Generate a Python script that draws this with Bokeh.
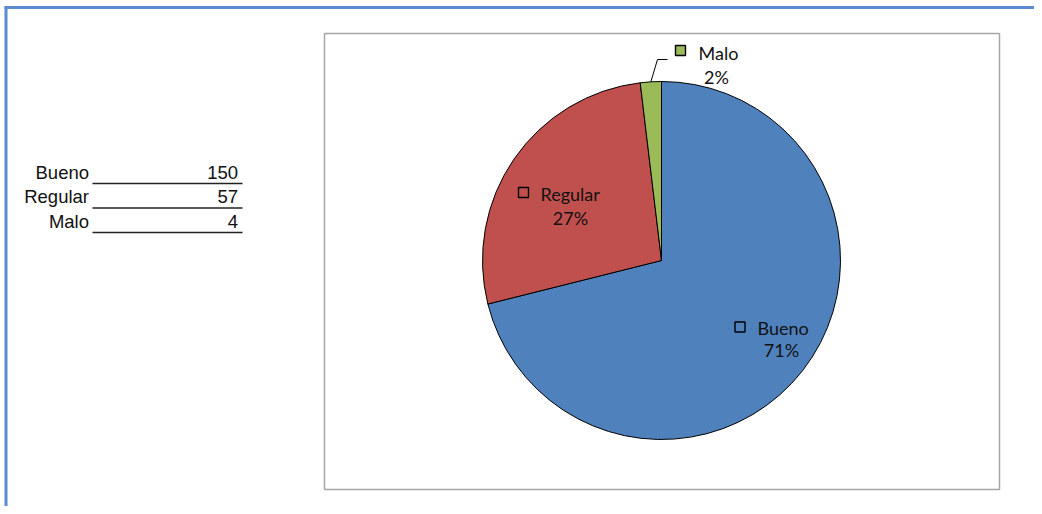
import math
from bokeh.plotting import figure
from bokeh.models import Range1d, ColumnDataSource
from bokeh.core.properties import value
from bokeh.embed import file_html
from bokeh.resources import INLINE

# ---- data ----
categories = ["Bueno", "Regular", "Malo"]
counts = [150, 57, 4]

# ---- style ----
slice_colors = ["#4F81BD", "#C0504D", "#9BBB59"]
W, H = 1034, 506
PAGE_H = 514

def Y(py):
    return PAGE_H - py

p = figure(width=W, height=H, output_backend="svg", toolbar_location=None,
           x_range=Range1d(0, W), y_range=Range1d(PAGE_H - H, PAGE_H),
           min_border=0, outline_line_color=None)
p.axis.visible = False
p.grid.visible = False
p.background_fill_color = "white"
p.border_fill_color = "white"

# sheet border (blue)
p.line([5.5, 5.5], [Y(6), Y(520)], line_color="#5B8BD0", line_width=3)
p.line([4, 1050], [Y(7), Y(7)], line_color="#5B8BD0", line_width=3)

# chart box
p.quad(left=324, right=999, top=Y(33), bottom=Y(489), fill_color="white",
       line_color="#A6A6A6", line_width=1.5)

# ---- table ----
row0, pitch = 171.5, 24.5
for i, (c, n) in enumerate(zip(categories, counts)):
    cyy = row0 + i * pitch
    p.text([88.5], [Y(cyy)], text=[c], text_align="right", text_baseline="middle",
           text_font=value("Liberation Sans"), text_font_size="18.5px", text_color="#111111")
    p.text([237.5], [Y(cyy)], text=[str(n)], text_align="right", text_baseline="middle",
           text_font=value("Liberation Sans"), text_font_size="18.5px", text_color="#111111")
    p.line([92, 242], [Y(cyy + 11.5), Y(cyy + 11.5)], line_color="#222222", line_width=1.5)

# ---- pie ----
cx, cy, r = 661, 260, 179
total = sum(counts)
fracs = [n / total for n in counts]
starts, ends, cum = [], [], 0.0
for f in fracs:
    starts.append(math.pi / 2 - cum * 2 * math.pi)
    cum += f
    ends.append(math.pi / 2 - cum * 2 * math.pi)
src = ColumnDataSource(dict(x=[cx] * 3, y=[Y(cy)] * 3, start=starts, end=ends, color=slice_colors))
p.wedge(x="x", y="y", radius=r, start_angle="start", end_angle="end", direction="clock",
        fill_color="color", line_color="#000000", line_width=1, source=src)

# labels (layout positions: square centre, text start, text centre line, percent centre)
label_layout = [
    dict(sq=(739.5, 326.5), tx=757, ty=327.5, pc=781, py=349.5),
    dict(sq=(523, 192), tx=540, ty=193.5, pc=570, py=217.5),
    dict(sq=(680, 50), tx=698, ty=52.5, pc=716, py=76.5),
]
for c, f, col, L in zip(categories, fracs, slice_colors, label_layout):
    sx, sy = L["sq"]
    p.rect([sx], [Y(sy)], width=10, height=10, fill_color=col, line_color="#000000", line_width=1.4)
    p.text([L["tx"]], [Y(L["ty"])], text=[c], text_align="left", text_baseline="middle",
           text_font=value("Lato"), text_font_size="18px", text_color="#111111")
    p.text([L["pc"]], [Y(L["py"])], text=[f"{round(f * 100)}%"], text_align="center",
           text_baseline="middle", text_font=value("Lato"), text_font_size="18px",
           text_color="#111111")

# leader line for the small slice
mid = (sum(fracs[:2]) + fracs[2] / 2) * 2 * math.pi
ex, ey = cx + r * math.sin(mid), cy - r * math.cos(mid)
p.line([ex, 657, 667], [Y(ey), Y(59), Y(59)], line_color="#000000", line_width=1)

open("out.html", "w").write(file_html(p, INLINE))
